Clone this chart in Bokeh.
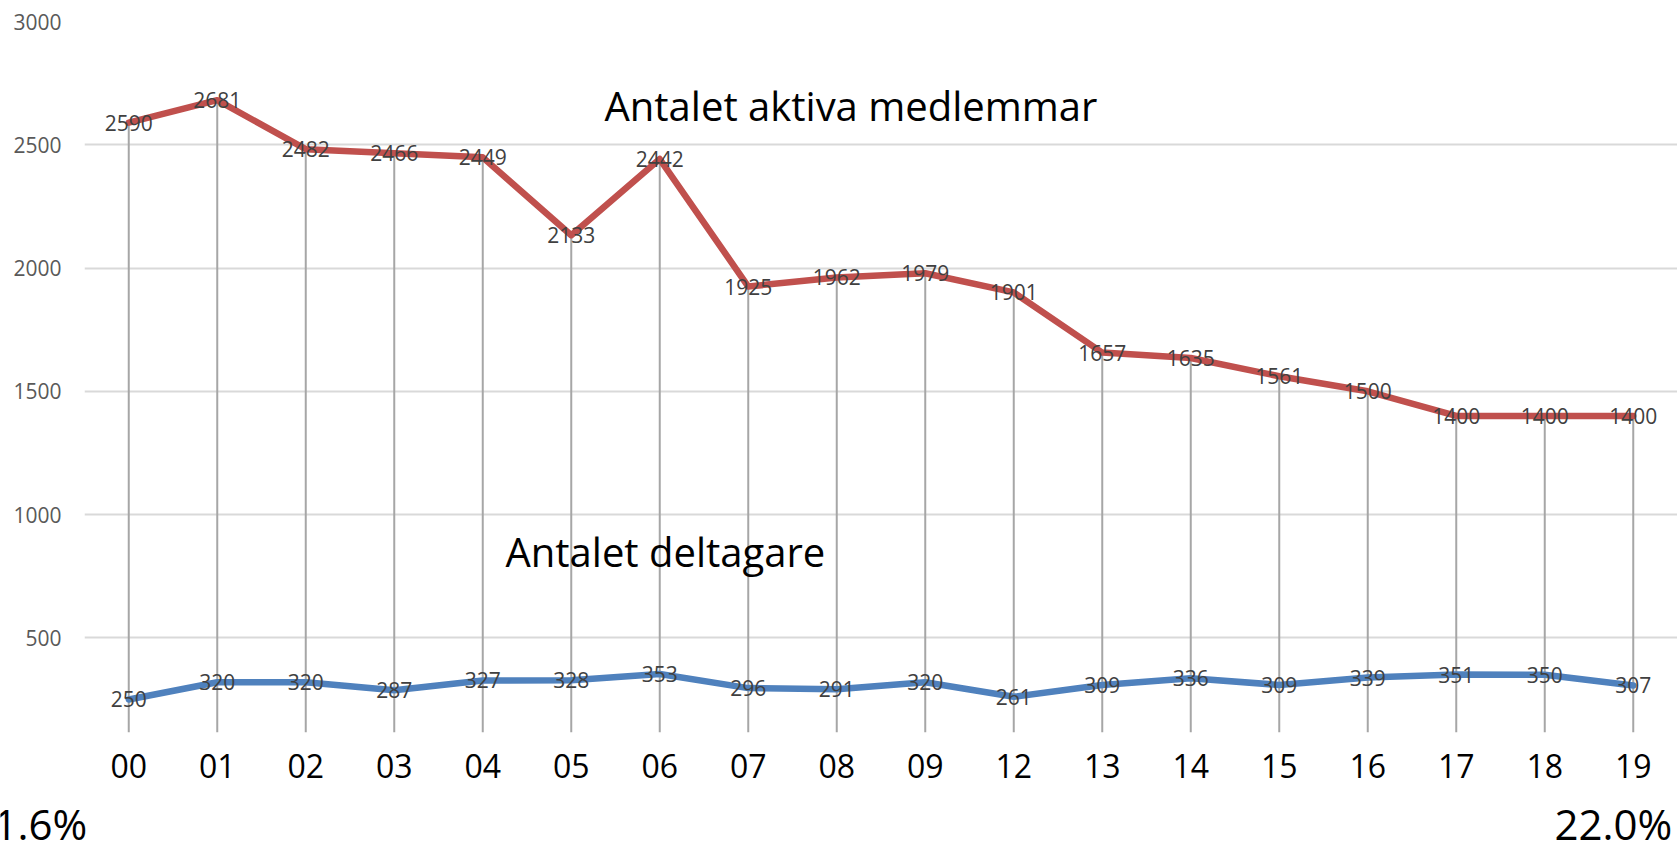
from bokeh.plotting import figure
from bokeh.layouts import column, row
from bokeh.models import Range1d, FixedTicker, Label, ColumnDataSource
from bokeh.embed import file_html
from bokeh.resources import INLINE
from bokeh.core.properties import value

years = ["00", "01", "02", "03", "04", "05", "06", "07", "08", "09",
         "12", "13", "14", "15", "16", "17", "18", "19"]
members = [2590, 2681, 2482, 2466, 2449, 2133, 2442, 1925, 1962, 1979,
           1901, 1657, 1635, 1561, 1500, 1400, 1400, 1400]
participants = [250, 320, 320, 287, 327, 328, 353, 296, 291, 320,
                261, 309, 336, 309, 339, 351, 350, 307]
y_ticks = [500, 1000, 1500, 2000, 2500, 3000]
title_members = "Antalet aktiva medlemmar"
title_participants = "Antalet deltagare"
left_note = "1.6%"
right_note = "22.0%"

FONT = "Open Sans"
RED = "#C0504D"
BLUE = "#4F81BD"
W = 1677

y_start, y_end = 116, 3000

p = figure(x_range=years, y_range=Range1d(y_start, y_end), title=None,
           width=W, height=792, output_backend="svg",
           toolbar_location=None, min_border_left=84, min_border_right=0,
           min_border_top=21, min_border_bottom=60)
p.x_range.range_padding = 0
p.outline_line_color = None
p.background_fill_color = "white"
p.border_fill_color = "white"

# grid
p.xgrid.grid_line_color = None
p.ygrid.grid_line_color = "#D9D9D9"
p.ygrid.grid_line_width = 2
p.yaxis.ticker = FixedTicker(ticks=y_ticks)

# axes
for ax in (p.xaxis, p.yaxis):
    ax.axis_line_color = None
    ax.major_tick_line_color = None
    ax.minor_tick_line_color = None
    ax.major_tick_out = 0
    ax.major_tick_in = 0
    ax.major_label_text_font = FONT
p.yaxis.major_label_text_font_size = "21px"
p.yaxis.major_label_text_color = "#595959"
p.yaxis.major_label_standoff = 23
p.xaxis.major_label_text_font_size = "32px"
p.xaxis.major_label_text_color = "#000000"
p.xaxis.major_label_standoff = 21

# titles inside plot
p.add_layout(Label(x=5.876, y=2661, text=title_members, text_font=FONT,
                   text_font_size="40px", text_color="#000000",
                   text_baseline="alphabetic", text_align="left"))
p.add_layout(Label(x=4.757, y=850, text=title_participants, text_font=FONT,
                   text_font_size="40px", text_color="#000000",
                   text_baseline="alphabetic", text_align="left"))

src = ColumnDataSource(dict(x=years, m=members, d=participants,
                            base=[y_start] * len(years),
                            ml=[str(v) for v in members],
                            dl=[str(v) for v in participants]))

# drop lines
p.segment(x0="x", y0="base", x1="x", y1="m", source=src,
          line_color="#A6A6A6", line_width=2)

# series
p.line(x="x", y="d", source=src, line_color=BLUE, line_width=6.5,
       line_join="round", line_cap="round")
p.line(x="x", y="m", source=src, line_color=RED, line_width=6.5,
       line_join="round", line_cap="round")

# data labels
p.text(x="x", y="m", text="ml", source=src, text_font=value(FONT),
       text_font_size="21px", text_color="#404040",
       text_align="center", text_baseline="middle")
p.text(x="x", y="d", text="dl", source=src, text_font=value(FONT),
       text_font_size="21px", text_color="#404040",
       text_align="center", text_baseline="middle")

# bottom notes strip (own frame across the full width)
n = figure(x_range=Range1d(0, W), y_range=Range1d(0, 50), title=None,
           width=W, height=50, x_axis_type=None, y_axis_type=None,
           output_backend="svg", toolbar_location=None,
           min_border_left=0, min_border_right=0, min_border_top=0,
           min_border_bottom=0)
n.grid.visible = False
n.outline_line_color = None
n.border_fill_color = "white"
n.add_layout(Label(x=86.7, y=19, text=left_note, text_font=FONT,
                   text_font_size="42px", text_color="#000000",
                   text_align="right", text_baseline="alphabetic"))
n.add_layout(Label(x=1671.7, y=19, text=right_note, text_font=FONT,
                   text_font_size="42px", text_color="#000000",
                   text_align="right", text_baseline="alphabetic"))

layout = column(p, row(n, spacing=0), spacing=0)
open("out.html", "w").write(file_html(layout, INLINE))
